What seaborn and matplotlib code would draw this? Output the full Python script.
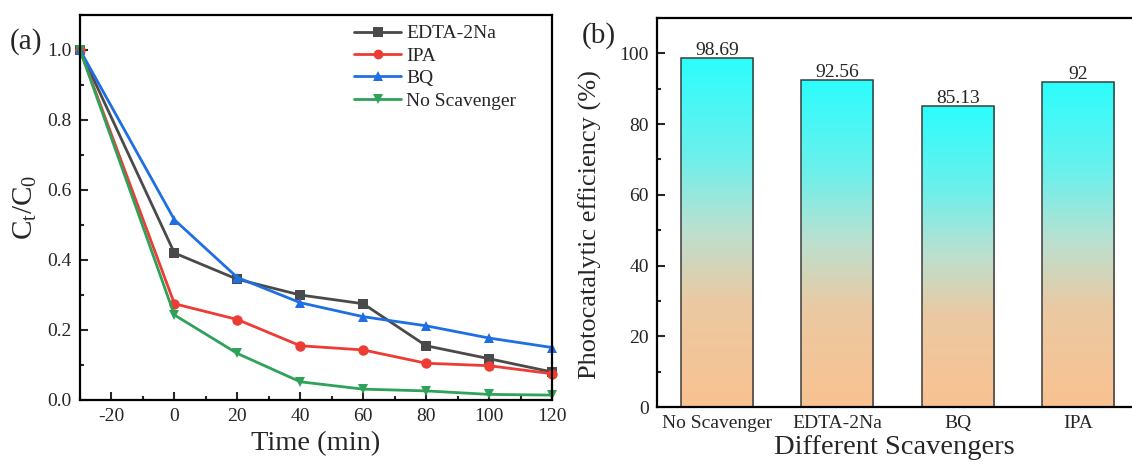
import numpy as np
import pandas as pd
import matplotlib
matplotlib.use("Agg")
import matplotlib.pyplot as plt
from matplotlib.colors import LinearSegmentedColormap
from matplotlib.ticker import MultipleLocator, FormatStrFormatter
import seaborn as sns

# ---- data ----
time_min = [-30, 0, 20, 40, 60, 80, 100, 120]
edta_2na = [1.0, 0.42, 0.345, 0.30, 0.275, 0.155, 0.118, 0.08]
ipa = [1.0, 0.275, 0.23, 0.155, 0.143, 0.105, 0.098, 0.075]
bq = [1.0, 0.515, 0.35, 0.278, 0.238, 0.212, 0.177, 0.15]
no_scavenger = [1.0, 0.243, 0.133, 0.052, 0.031, 0.026, 0.016, 0.014]

series_names = ["EDTA-2Na", "IPA", "BQ", "No Scavenger"]
series_values = [edta_2na, ipa, bq, no_scavenger]

bar_categories = ["No Scavenger", "EDTA-2Na", "BQ", "IPA"]
bar_values = [98.69, 92.56, 85.13, 92]
bar_labels = ["98.69", "92.56", "85.13", "92"]

# ---- style ----
sns.set_theme(style="ticks")
plt.rcParams["font.family"] = ["Liberation Serif", "DejaVu Serif"]
plt.rcParams["mathtext.fontset"] = "custom"
plt.rcParams["mathtext.rm"] = "Liberation Serif"
plt.rcParams["mathtext.it"] = "Liberation Serif:italic"
plt.rcParams["axes.linewidth"] = 1.6
plt.rcParams["axes.edgecolor"] = "black"
plt.rcParams["axes.unicode_minus"] = False

palette = {"EDTA-2Na": "#4a4a4a", "IPA": "#ee3b33", "BQ": "#1f6fe3", "No Scavenger": "#2ea25a"}
markers = {"EDTA-2Na": "s", "IPA": "o", "BQ": "^", "No Scavenger": "v"}

TICK_FS = 14
LABEL_FS = 20.5

W, H = 1132, 467
fig = plt.figure(figsize=(W / 100, H / 100), dpi=100)
ax1 = fig.add_axes([80 / W, 1 - 400 / H, (552 - 80) / W, (400 - 15) / H])
ax2 = fig.add_axes([657 / W, 1 - 407 / H, (1132 - 657) / W, (407 - 18) / H])

# ---- (a) kinetic curves ----
df = pd.DataFrame({
    "Time": np.tile(time_min, len(series_names)),
    "Ct/C0": np.concatenate(series_values),
    "Scavenger": np.repeat(series_names, len(time_min)),
})
sns.lineplot(data=df, x="Time", y="Ct/C0", hue="Scavenger", style="Scavenger",
             hue_order=series_names, style_order=series_names,
             palette=palette, markers=markers, dashes=False,
             linewidth=2.0, markersize=7.5, markeredgewidth=0, ax=ax1)
ax1.set_xlim(-30, 120)
ax1.set_ylim(0, 1.1)
ax1.set_xticks([-20, 0, 20, 40, 60, 80, 100, 120])
ax1.set_yticks([0.0, 0.2, 0.4, 0.6, 0.8, 1.0])
ax1.xaxis.set_minor_locator(MultipleLocator(10))
ax1.yaxis.set_minor_locator(MultipleLocator(0.1))
ax1.yaxis.set_major_formatter(FormatStrFormatter("%.1f"))
ax1.tick_params(which="major", direction="in", length=6, width=1.5, labelsize=TICK_FS, pad=6)
ax1.tick_params(which="minor", direction="in", length=3, width=1.5)
ax1.set_xlabel("Time (min)", fontsize=LABEL_FS, labelpad=4)
ax1.set_ylabel(r"C$_\mathrm{t}$/C$_\mathrm{0}$", fontsize=21, labelpad=6)
for s in ax1.spines.values():
    s.set_visible(True)
leg = ax1.legend(loc="upper right", bbox_to_anchor=(0.94, 0.995), frameon=False,
                 fontsize=14, handlelength=2.4, handletextpad=0.25,
                 labelspacing=0.25, borderaxespad=0.0)
for h in leg.legend_handles:
    h.set_markersize(7)
    h.set_linewidth(2.0)
for line in ax1.lines:
    line.set_clip_on(False)

# ---- (b) efficiency bars ----
bdf = pd.DataFrame({"Scavenger": bar_categories, "Efficiency": bar_values})
sns.barplot(data=bdf, x="Scavenger", y="Efficiency", order=bar_categories,
            color="#9fe6dc", width=0.6, edgecolor="#3c3c3c", linewidth=1.1,
            ax=ax2)

grad = LinearSegmentedColormap.from_list("peach_cyan", [
    (0.0, "#f9c291"), (0.3, "#ebc9a2"), (0.5, "#bde0cf"),
    (0.72, "#6cf0ec"), (1.0, "#2bfdfd")])
gradient = np.linspace(0, 1, 256).reshape(-1, 1)
for patch in ax2.patches:
    x0, y0 = patch.get_x(), patch.get_y()
    w, h = patch.get_width(), patch.get_height()
    im = ax2.imshow(gradient, cmap=grad, origin="lower", aspect="auto",
                    extent=(x0, x0 + w, y0, y0 + h), zorder=patch.get_zorder() - 0.1,
                    interpolation="bilinear")
    im.set_clip_path(patch)
    patch.set_facecolor("none")
ax2.set_xlim(-0.5, 3.45)
ax2.set_ylim(0, 110)

for patch, lab in zip(ax2.patches, bar_labels):
    ax2.text(patch.get_x() + patch.get_width() / 2, patch.get_height() - 0.3, lab,
             ha="center", va="bottom", fontsize=14)

ax2.yaxis.set_major_locator(MultipleLocator(20))
ax2.yaxis.set_minor_locator(MultipleLocator(10))
ax2.tick_params(axis="y", which="major", direction="in", length=6, width=1.5, labelsize=TICK_FS, pad=6)
ax2.tick_params(axis="y", which="minor", direction="in", length=3, width=1.5)
ax2.tick_params(axis="x", length=0, labelsize=TICK_FS, pad=6)
ax2.set_xlabel("Different Scavengers", fontsize=LABEL_FS, labelpad=2)
ax2.set_ylabel("Photocatalytic efficiency (%)", fontsize=19, labelpad=6)
ax2.yaxis.set_label_coords(-0.115, 0.47)
ax2.spines["right"].set_visible(False)

fig.text(10 / W, 1 - 42 / H, "(a)", fontsize=21, va="center", ha="left")
fig.text(582 / W, 1 - 36 / H, "(b)", fontsize=21, va="center", ha="left")

fig.savefig("out.png", dpi=100)
